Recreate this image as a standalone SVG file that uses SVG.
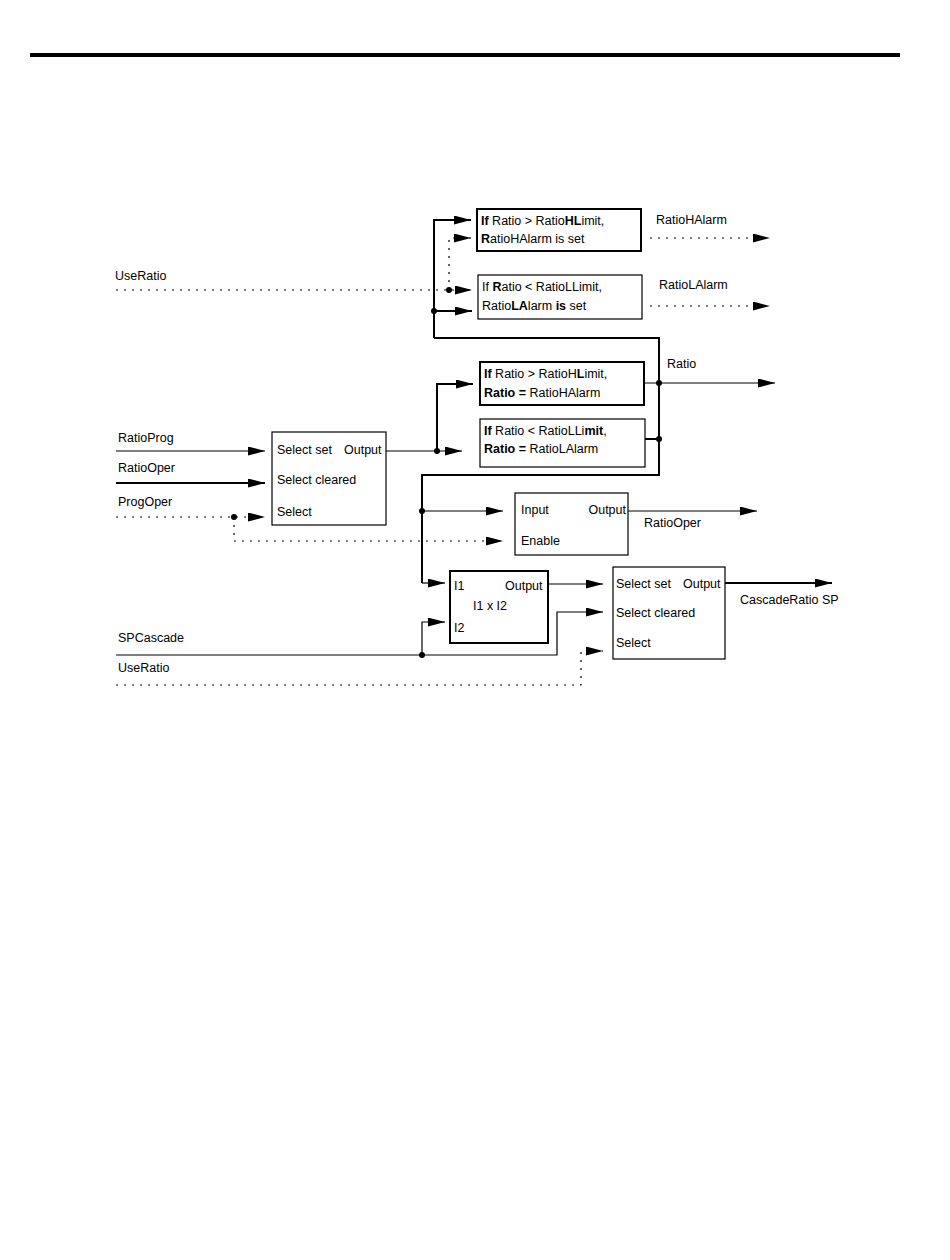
<svg xmlns="http://www.w3.org/2000/svg" width="950" height="1260" viewBox="0 0 950 1260">
<style>
text{font-family:"Liberation Sans",Arial,sans-serif;font-size:12.5px;fill:#000}
.b{font-weight:bold}
.box{fill:#fff;stroke:#000}
.w1{stroke-width:1.2}
.w2{stroke-width:2}
.ln{fill:none;stroke:#000;stroke-width:1.2}
.th{fill:none;stroke:#000;stroke-width:2}
.dt{fill:none;stroke:#000;stroke-width:1.2;stroke-dasharray:2 6}
.ar{marker-end:url(#ah)}
</style>
<defs>
<marker id="ah" markerUnits="userSpaceOnUse" viewBox="0 0 17 9" refX="17" refY="4.5" markerWidth="17" markerHeight="9" orient="auto">
<path d="M0,0 L17,4.5 L0,9 Z" fill="#000" stroke="none"/>
</marker>
</defs>
<rect x="30" y="53" width="870" height="4" fill="#000"/>
<g id="connectors">
<!-- top loop -->
<path class="th ar" d="M434,338 V220 H471"/>
<path class="th" d="M434,338 H659 V475 H422 V583"/>
<path class="ln ar" d="M422,583 H445"/>
<path class="th ar" d="M434,311 H472"/>
<path class="dt ar" d="M116,290 H472"/>
<path class="dt ar" d="M449,290 V238 H471"/>
<path class="dt ar" d="M650,238 H770"/>
<path class="dt ar" d="M650,306 H770"/>
<!-- ratio outputs -->
<path class="ln ar" d="M644,383 H775"/>
<path class="th" d="M645,439 H659"/>
<!-- select output -->
<path class="ln ar" d="M386,451 H462"/>
<path class="th ar" d="M437,451 V384 H473"/>
<!-- inputs to select -->
<path class="ln ar" d="M116,451 H265"/>
<path class="th ar" d="M116,483 H265"/>
<path class="dt ar" d="M116,517 H265"/>
<path class="dt ar" d="M234,517 V541 H503"/>
<!-- enable block -->
<path class="ln ar" d="M422,511 H503"/>
<path class="ln ar" d="M628,511 H757"/>
<!-- bottom -->
<path class="ln ar" d="M116,655 H557 V612 H603"/>
<path class="ln ar" d="M422,655 V622 H445"/>
<path class="ln ar" d="M548,584 H603"/>
<path class="dt ar" d="M116,685 H581 V651 H603"/>
<path class="th ar" d="M725,583 H832"/>
<!-- junction dots -->
<circle cx="449" cy="290" r="3"/>
<circle cx="434" cy="311" r="3"/>
<circle cx="659" cy="383" r="3"/>
<circle cx="659" cy="439" r="3"/>
<circle cx="437" cy="451" r="3"/>
<circle cx="234" cy="517" r="3"/>
<circle cx="422" cy="511" r="3"/>
<circle cx="422" cy="655" r="3"/>
</g>
<g id="labels">
<text x="115" y="280">UseRatio</text>
<text x="656" y="224">RatioHAlarm</text>
<text x="659" y="289">RatioLAlarm</text>
<text x="667" y="368">Ratio</text>
<text x="118" y="442">RatioProg</text>
<text x="118" y="472">RatioOper</text>
<text x="118" y="506">ProgOper</text>
<text x="644" y="527">RatioOper</text>
<text x="118" y="642">SPCascade</text>
<text x="118" y="672">UseRatio</text>
<text x="740" y="604">CascadeRatio SP</text>
</g>
<g id="hAlarm">
<rect class="box w2" x="477" y="209" width="164" height="42"/>
<text x="481" y="225"><tspan class="b">If</tspan> Ratio &gt; Ratio<tspan class="b">HL</tspan>imit,</text>
<text x="481" y="243"><tspan class="b">R</tspan>atioHAlarm is set</text>
</g>
<g id="lAlarm">
<rect class="box w1" x="478" y="275" width="164" height="44"/>
<text x="482" y="291">If <tspan class="b">R</tspan>atio &lt; RatioLLimit,</text>
<text x="482" y="310">Ratio<tspan class="b">LA</tspan>larm <tspan class="b">is</tspan> set</text>
</g>
<g id="hLimit">
<rect class="box w2" x="480" y="362" width="164" height="43"/>
<text x="484" y="378"><tspan class="b">If</tspan> Ratio &gt; RatioH<tspan class="b">L</tspan>imit,</text>
<text x="484" y="397"><tspan class="b">Ratio =</tspan> RatioHAlarm</text>
</g>
<g id="lLimit">
<rect class="box w1" x="480" y="419" width="165" height="48"/>
<text x="484" y="435"><tspan class="b">If</tspan> Ratio &lt; RatioLLi<tspan class="b">mit</tspan>,</text>
<text x="484" y="453"><tspan class="b">Ratio =</tspan> RatioLAlarm</text>
</g>
<g id="select1">
<rect class="box w1" x="272" y="432" width="114" height="93"/>
<text x="277" y="454">Select set</text>
<text x="344" y="454">Output</text>
<text x="277" y="484">Select cleared</text>
<text x="277" y="516">Select</text>
</g>
<g id="enableBlock">
<rect class="box w1" x="515" y="493" width="113" height="62"/>
<text x="521" y="514">Input</text>
<text x="626" y="514" text-anchor="end">Output</text>
<text x="521" y="545">Enable</text>
</g>
<g id="multiply">
<rect class="box w2" x="450" y="571" width="98" height="72"/>
<text x="454" y="590">I1</text>
<text x="505" y="590">Output</text>
<text x="473" y="610">I1 x I2</text>
<text x="454" y="632">I2</text>
</g>
<g id="select2">
<rect class="box w1" x="613" y="567" width="112" height="92"/>
<text x="616" y="588">Select set</text>
<text x="683" y="588">Output</text>
<text x="616" y="617">Select cleared</text>
<text x="616" y="647">Select</text>
</g>
</svg>
